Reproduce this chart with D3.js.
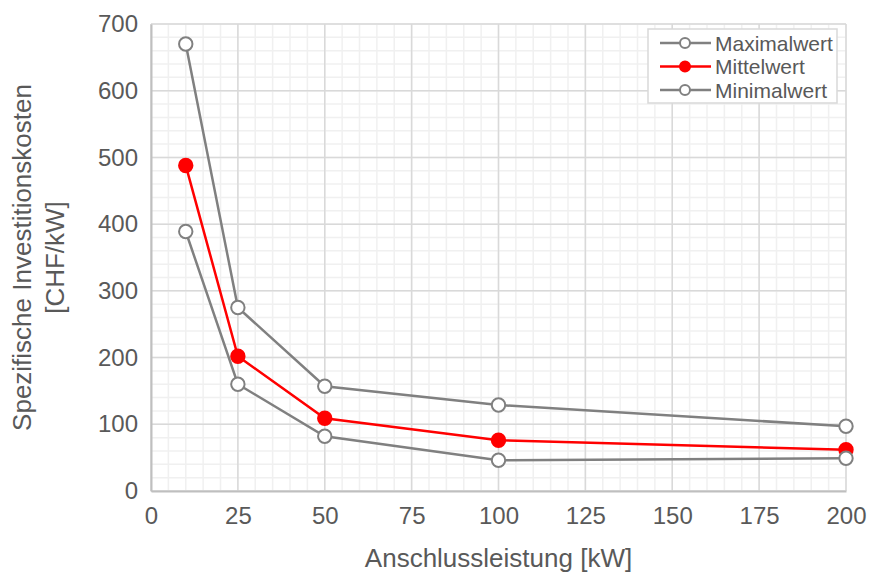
<!DOCTYPE html>
<html>
<head>
<meta charset="utf-8">
<script src="https://cdn.jsdelivr.net/npm/d3@7"></script>
<style>
body { margin: 0; background: #fff; }
text { font-family: Arial, "Liberation Sans", sans-serif; fill: #595959; }
</style>
</head>
<body>
<div id="viz"></div>
<script>
var leistung = [10, 25, 50, 100, 200];
var maximalwert = [670, 275, 157, 129, 97];
var mittelwert = [488, 202, 109, 76, 62];
var minimalwert = [389, 160, 82, 46, 49];
var xTicks = [0, 25, 50, 75, 100, 125, 150, 175, 200];
var yTicks = [0, 100, 200, 300, 400, 500, 600, 700];

var W = 869, H = 574;
var m = {left: 151, top: 24, right: 23, bottom: 83};
var pw = W - m.left - m.right, ph = H - m.top - m.bottom;

var svg = d3.select("#viz").append("svg")
    .attr("width", W).attr("height", H);

var x = d3.scaleLinear().domain([0, 200]).range([0, pw]);
var y = d3.scaleLinear().domain([0, 700]).range([ph, 0]);

var g = svg.append("g").attr("transform", "translate(" + m.left + "," + m.top + ")");

// minor grid
g.selectAll(".xminor").data(d3.range(0, 201, 5)).enter().append("line")
    .attr("x1", d => x(d)).attr("x2", d => x(d)).attr("y1", 0).attr("y2", ph)
    .style("stroke", "#f0f0f0").style("stroke-width", 1.5);
g.selectAll(".yminor").data(d3.range(0, 701, 20)).enter().append("line")
    .attr("y1", d => y(d)).attr("y2", d => y(d)).attr("x1", 0).attr("x2", pw)
    .style("stroke", "#f0f0f0").style("stroke-width", 1.5);
// major grid
g.selectAll(".xmajor").data(xTicks).enter().append("line")
    .attr("x1", d => x(d)).attr("x2", d => x(d)).attr("y1", 0).attr("y2", ph)
    .style("stroke", "#d9d9d9").style("stroke-width", 1.5);
g.selectAll(".ymajor").data(yTicks).enter().append("line")
    .attr("y1", d => y(d)).attr("y2", d => y(d)).attr("x1", 0).attr("x2", pw)
    .style("stroke", "#d9d9d9").style("stroke-width", 1.5);

// axes
var xa = g.append("g").attr("transform", "translate(0," + ph + ")")
    .call(d3.axisBottom(x).tickValues(xTicks).tickSize(0).tickPadding(21));
var ya = g.append("g")
    .call(d3.axisLeft(y).tickValues(yTicks).tickSize(0).tickPadding(13));
[xa, ya].forEach(function(a){
    a.select(".domain").style("stroke", "#bfbfbf").style("stroke-width", 2);
    a.selectAll("text").style("font-size", "24px").style("fill", "#595959")
        .style("font-family", "Arial, 'Liberation Sans', sans-serif");
});
xa.selectAll("text").attr("dy", "0.5em");

svg.append("text").attr("x", m.left + pw / 2).attr("y", 567)
    .attr("text-anchor", "middle").style("font-size", "26px")
    .text("Anschlussleistung [kW]");
var yt = svg.append("text").attr("transform", "translate(31," + (m.top + ph / 2) + ") rotate(-90)")
    .attr("text-anchor", "middle").style("font-size", "26px");
yt.append("tspan").attr("x", 0).attr("dy", 0).text("Spezifische Investitionskosten");
yt.append("tspan").attr("x", 0).attr("dy", 33).text("[CHF/kW]");

var series = [
    {name: "Maximalwert", vals: maximalwert, col: "#808080", fill: "#fff"},
    {name: "Mittelwert", vals: mittelwert, col: "#ff0000", fill: "#ff0000"},
    {name: "Minimalwert", vals: minimalwert, col: "#808080", fill: "#fff"}
];

var line = d3.line().x(d => x(d[0])).y(d => y(d[1]));
series.forEach(function(s){
    var pts = leistung.map((d, i) => [d, s.vals[i]]);
    g.append("path").datum(pts).attr("d", line)
        .style("fill", "none").style("stroke", s.col).style("stroke-width", 2.5);
    g.selectAll(null).data(pts).enter().append("circle")
        .attr("cx", d => x(d[0])).attr("cy", d => y(d[1])).attr("r", 6.7)
        .style("fill", s.fill).style("stroke", s.col).style("stroke-width", 2);
});

// legend
var lg = svg.append("g").attr("transform", "translate(648,29)");
lg.append("rect").attr("width", 189).attr("height", 74)
    .style("fill", "#fff").style("stroke", "#d9d9d9").style("stroke-width", 1.5);
series.forEach(function(s, i){
    var ly = 14 + i * 23.5;
    lg.append("line").attr("x1", 12).attr("x2", 63).attr("y1", ly).attr("y2", ly)
        .style("stroke", s.col).style("stroke-width", 2.5);
    lg.append("circle").attr("cx", 37).attr("cy", ly).attr("r", 5)
        .style("fill", s.fill).style("stroke", s.col).style("stroke-width", 2);
    lg.append("text").attr("x", 67).attr("y", ly + 7.5).style("font-size", "21px").text(s.name);
});
</script>
</body>
</html>
